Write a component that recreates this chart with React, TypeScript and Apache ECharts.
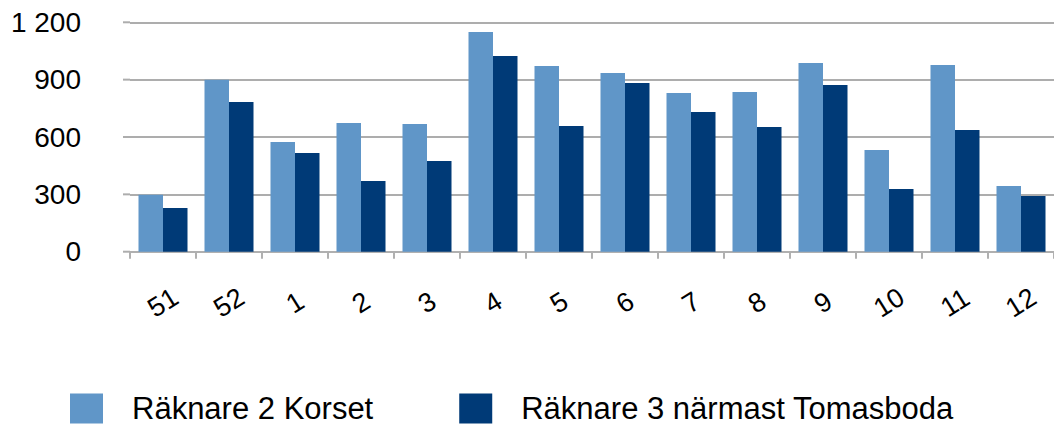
import React, { useEffect, useRef } from "react";
import * as echarts from "echarts";

const categories = ["51", "52", "1", "2", "3", "4", "5", "6", "7", "8", "9", "10", "11", "12"];
const seriesNames = ["Räknare 2 Korset", "Räknare 3 närmast Tomasboda"];
const korset = [298, 900, 574, 673, 668, 1149, 971, 935, 830, 835, 987, 532, 977, 344];
const tomasboda = [229, 783, 516, 370, 474, 1024, 658, 882, 731, 652, 872, 328, 637, 291];
const yTicks = [0, 300, 600, 900, 1200];

const FONT = "'Liberation Sans', Arial, Helvetica, sans-serif";

export default function App() {
  const ref = useRef<HTMLDivElement>(null);
  useEffect(() => {
    if (!ref.current) return;
    const chart = echarts.init(ref.current, null, { renderer: "svg" });
    const option: any = {
      animation: false,
      backgroundColor: "#ffffff",
      grid: { left: 130, top: 22.3, width: 933.3, height: 229.4, containLabel: false },
      legend: {
        left: 70,
        top: 393,
        padding: 0,
        itemWidth: 33,
        itemHeight: 30,
        itemGap: 86,
        icon: "rect",
        data: seriesNames,
        textStyle: {
          fontFamily: FONT,
          fontSize: 31,
          lineHeight: 30,
          color: "#000",
          padding: [0, 0, 0, 24],
        },
      },
      xAxis: {
        type: "category",
        data: categories,
        axisLine: { show: true, lineStyle: { color: "#b0b0b0", width: 2 } },
        axisTick: { show: true, length: 7, lineStyle: { color: "#b0b0b0", width: 2 } },
        axisLabel: {
          rotate: 32,
          align: "center",
          verticalAlign: "middle",
          margin: 51,
          fontFamily: FONT,
          fontSize: 27,
          color: "#000",
          interval: 0,
        },
      },
      yAxis: {
        type: "value",
        min: 0,
        max: 1200,
        interval: 300,
        axisLine: { show: false },
        axisTick: { show: false },
        splitLine: { show: true, lineStyle: { color: "#adadad", width: 2 } },
        axisLabel: {
          margin: 49,
          fontFamily: FONT,
          fontSize: 28,
          color: "#000",
          formatter: (v: number) => String(v).replace(/\B(?=(\d{3})+(?!\d))/g, " "),
        },
      },
      series: [
        {
          name: seriesNames[0],
          type: "bar",
          data: korset,
          barWidth: 24.5,
          barGap: "0%",
          itemStyle: { color: "#6096c8" },
        },
        {
          name: seriesNames[1],
          type: "bar",
          data: tomasboda,
          barWidth: 24.5,
          barGap: "0%",
          itemStyle: { color: "#003a77" },
        },
      ],
    };
    chart.setOption(option);
    // extend gridlines slightly to the left of the first category, like the original
    const gridLeft = 130;
    const graphics = yTicks.map((t) => {
      const p = chart.convertToPixel({ yAxisIndex: 0 }, t) as number;
      return {
        type: "line",
        silent: true,
        shape: { x1: gridLeft - 7, y1: p, x2: gridLeft, y2: p },
        style: { stroke: "#adadad", lineWidth: 2 },
      };
    });
    chart.setOption({ graphic: graphics });
    return () => chart.dispose();
  }, []);
  return (
    <div
      ref={ref}
      style={{ position: "absolute", left: 0, top: 0, width: 1054, height: 425 }}
    />
  );
}
